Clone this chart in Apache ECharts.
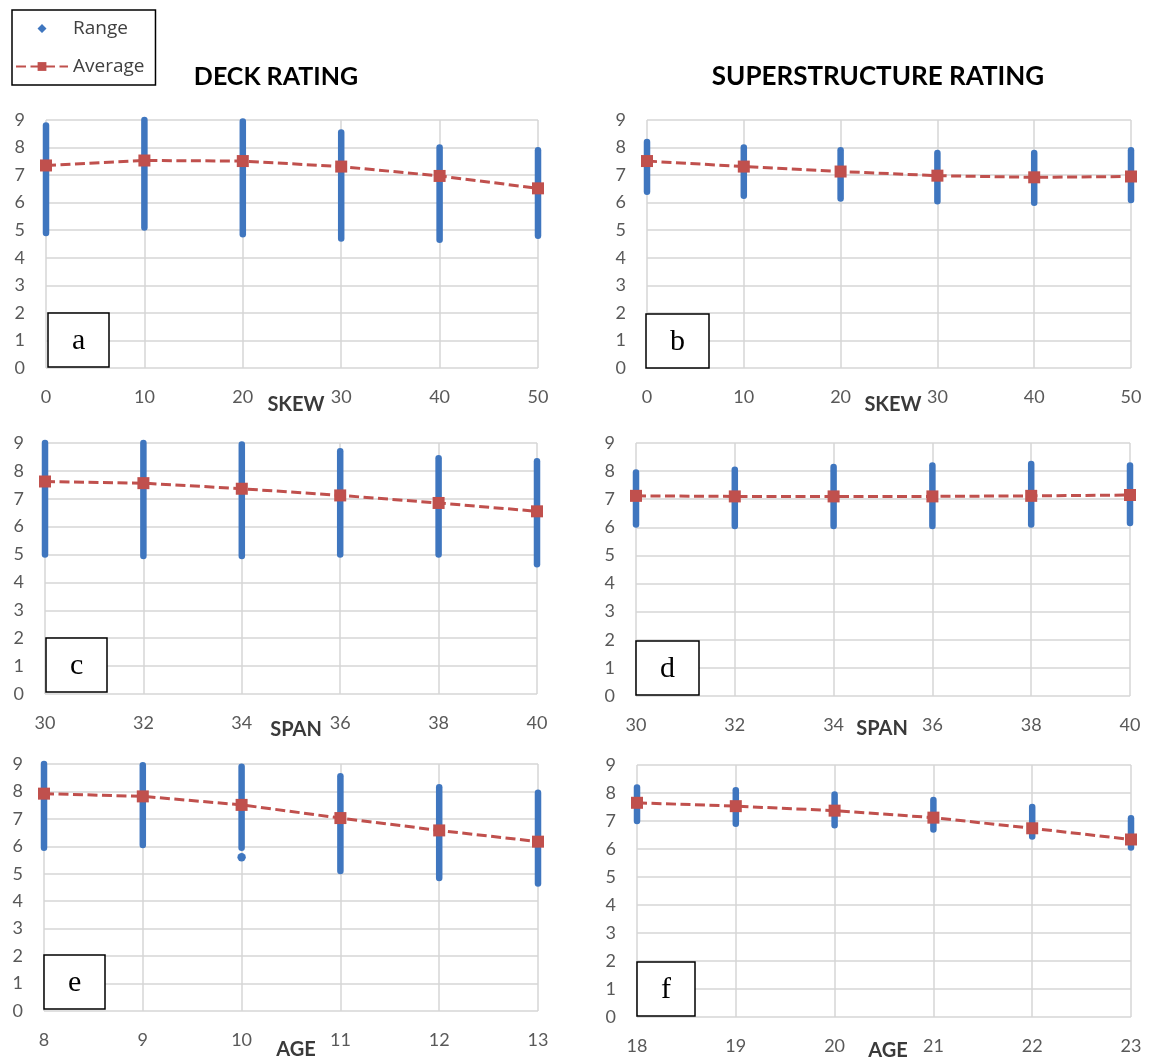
<!DOCTYPE html>
<html>
<head>
<meta charset="utf-8">
<script src="https://cdn.jsdelivr.net/npm/echarts@6/dist/echarts.min.js"></script>
<style>
  html, body { margin: 0; padding: 0; background: #fff; }
  #chart { width: 1151px; height: 1062px; }
</style>
</head>
<body>
<div id="chart"></div>
<script>
// ---- Data ----
const skewX = [0, 10, 20, 30, 40, 50];
const spanX = [30, 32, 34, 36, 38, 40];
const deckAgeX = [8, 9, 10, 11, 12, 13];
const superAgeX = [18, 19, 20, 21, 22, 23];

const deckSkewMin = [4.9, 5.1, 4.85, 4.7, 4.65, 4.8];
const deckSkewMax = [8.8, 9.0, 8.95, 8.55, 8.0, 7.9];
const deckSkewAvg = [7.35, 7.53, 7.51, 7.31, 6.97, 6.52];

const superSkewMin = [6.4, 6.25, 6.15, 6.05, 6.0, 6.1];
const superSkewMax = [8.2, 8.0, 7.9, 7.8, 7.8, 7.9];
const superSkewAvg = [7.51, 7.31, 7.13, 6.98, 6.92, 6.95];

const deckSpanMin = [5.0, 4.95, 4.95, 5.0, 5.0, 4.65];
const deckSpanMax = [9.0, 9.0, 8.95, 8.7, 8.45, 8.35];
const deckSpanAvg = [7.62, 7.56, 7.36, 7.12, 6.85, 6.55];

const superSpanMin = [6.1, 6.05, 6.05, 6.05, 6.1, 6.15];
const superSpanMax = [7.95, 8.05, 8.15, 8.2, 8.25, 8.2];
const superSpanAvg = [7.12, 7.1, 7.1, 7.1, 7.12, 7.15];

const deckAgeMin = [5.95, 6.05, 5.95, 5.1, 4.85, 4.65];
const deckAgeMax = [9.0, 8.95, 8.9, 8.55, 8.15, 7.95];
const deckAgeAvg = [7.92, 7.82, 7.51, 7.03, 6.58, 6.17];
const deckAgeOutlierX = [10];
const deckAgeOutlierY = [5.6];

const superAgeMin = [7.0, 6.9, 6.85, 6.7, 6.45, 6.05];
const superAgeMax = [8.2, 8.1, 7.95, 7.75, 7.5, 7.1];
const superAgeAvg = [7.65, 7.53, 7.37, 7.12, 6.74, 6.34];

const yTicks = [0, 1, 2, 3, 4, 5, 6, 7, 8, 9];

// ---- Styling ----
const BLUE = '#3F76BF';
const RED = '#C0504D';
const GRIDC = '#D6D6D6';
const LABELC = '#595959';
const FONT = 'Lato, "Open Sans", sans-serif';

const panels = [
  { key: 'a', x: skewX, min: deckSkewMin, max: deckSkewMax, avg: deckSkewAvg, name: 'SKEW',
    grid: { left: 46, top: 120, width: 492, height: 248 }, nameShift: 4, nameGap: 27,
    box: { left: 48, top: 313 } },
  { key: 'b', x: skewX, min: superSkewMin, max: superSkewMax, avg: superSkewAvg, name: 'SKEW',
    grid: { left: 647, top: 120, width: 484, height: 248 }, nameShift: 4, nameGap: 27,
    box: { left: 646, top: 314 } },
  { key: 'c', x: spanX, min: deckSpanMin, max: deckSpanMax, avg: deckSpanAvg, name: 'SPAN',
    grid: { left: 45, top: 443, width: 492, height: 251 }, nameShift: 5, nameGap: 26,
    box: { left: 46, top: 638 } },
  { key: 'd', x: spanX, min: superSpanMin, max: superSpanMax, avg: superSpanAvg, name: 'SPAN',
    grid: { left: 636, top: 443, width: 494, height: 253 }, nameShift: -1, nameGap: 23,
    box: { left: 636, top: 641 } },
  { key: 'e', x: deckAgeX, min: deckAgeMin, max: deckAgeMax, avg: deckAgeAvg, name: 'AGE',
    grid: { left: 44, top: 764, width: 494, height: 247 }, nameShift: 5, nameGap: 29,
    box: { left: 44, top: 955 }, outX: deckAgeOutlierX, outY: deckAgeOutlierY },
  { key: 'f', x: superAgeX, min: superAgeMin, max: superAgeMax, avg: superAgeAvg, name: 'AGE',
    grid: { left: 637, top: 765, width: 494, height: 252 }, nameShift: 4, nameGap: 24,
    box: { left: 637, top: 962 } }
];

function renderRange(params, api) {
  const x = api.value(0), lo = api.value(1), hi = api.value(2);
  const p1 = api.coord([x, lo]);
  const p2 = api.coord([x, hi]);
  if (lo === hi) {
    return { type: 'circle', shape: { cx: p1[0], cy: p1[1], r: 4.2 }, style: { fill: BLUE } };
  }
  return {
    type: 'line',
    shape: { x1: p1[0], y1: p1[1], x2: p2[0], y2: p2[1] },
    style: { stroke: BLUE, lineWidth: 6.5, lineCap: 'round' }
  };
}

const grids = [], xAxes = [], yAxes = [], series = [], titles = [];

panels.forEach((p, i) => {
  grids.push(Object.assign({ containLabel: false }, p.grid));
  const step = p.x[1] - p.x[0];
  const shift = p.nameShift;
  xAxes.push({
    type: 'value', gridIndex: i,
    min: p.x[0], max: p.x[p.x.length - 1], interval: step,
    name: p.name, nameLocation: 'middle', nameGap: p.nameGap, nameMoveOverlap: false,
    nameTextStyle: {
      fontFamily: FONT, fontWeight: 'bold', fontSize: 20, color: '#3a3a3a',
      padding: shift >= 0 ? [0, 0, 0, 2 * shift] : [0, -2 * shift, 0, 0]
    },
    axisLine: { show: false }, axisTick: { show: false },
    axisLabel: { color: LABELC, fontFamily: FONT, fontSize: 18, margin: 20 },
    splitLine: { show: true, lineStyle: { color: GRIDC, width: 1.5 } }
  });
  yAxes.push({
    type: 'value', gridIndex: i,
    min: yTicks[0], max: yTicks[yTicks.length - 1], interval: 1,
    axisLine: { show: false }, axisTick: { show: false },
    axisLabel: { color: LABELC, fontFamily: FONT, fontSize: 18, margin: 21 },
    splitLine: { show: true, lineStyle: { color: GRIDC, width: 1.5 } }
  });
  const rangeData = p.x.map((xv, k) => [xv, p.min[k], p.max[k]]);
  if (p.outX) p.outX.forEach((xv, k) => rangeData.push([xv, p.outY[k], p.outY[k]]));
  series.push({
    name: 'Range', type: 'custom', xAxisIndex: i, yAxisIndex: i,
    renderItem: renderRange, encode: { x: 0, y: [1, 2] },
    itemStyle: { color: BLUE }, data: rangeData, z: 2
  });
  series.push({
    name: 'Average', type: 'line', xAxisIndex: i, yAxisIndex: i,
    data: p.x.map((xv, k) => [xv, p.avg[k]]),
    symbol: 'rect', symbolSize: 12, showSymbol: true, clip: false,
    lineStyle: { color: RED, width: 3, type: [10, 4.5] },
    itemStyle: { color: RED },
    z: 3
  });
  titles.push({
    text: p.key, left: p.box.left, top: p.box.top,
    padding: [12, 24, 10, 24],
    borderColor: '#000', borderWidth: 1.5, backgroundColor: '#fff',
    textStyle: { fontFamily: '"Liberation Serif", "DejaVu Serif", serif', fontWeight: 'normal',
                 fontSize: 30, color: '#000', lineHeight: 32 }
  });
});

// small diamond centred inside a 52x11 icon box (invisible degenerate corners keep the box size)
const DIAMOND_ICON = 'path://M0,0L0.001,0L0,0.001Z M21.5,5.5L26,1L30.5,5.5L26,10Z M52,11L51.999,11L52,10.999Z';

const chart = echarts.init(document.getElementById('chart'), null, { renderer: 'canvas' });
chart.setOption({
  animation: false,
  backgroundColor: '#fff',
  title: titles,
  legend: {
    left: 12, top: 10, orient: 'vertical',
    padding: [9, 11, 9, 3], itemGap: 19, itemWidth: 52, itemHeight: 11,
    borderColor: '#000', borderWidth: 1.5,
    textStyle: { fontFamily: '"Open Sans", sans-serif', fontSize: 19, color: '#404040' },
    data: [
      { name: 'Range', icon: DIAMOND_ICON, itemStyle: { color: BLUE } },
      { name: 'Average' }
    ]
  },
  graphic: [
    { type: 'text', x: 276, y: 77,
      style: { text: 'DECK RATING', fontFamily: FONT, fontWeight: 'bold', fontSize: 25, fill: '#000',
               textAlign: 'center', textVerticalAlign: 'middle' } },
    { type: 'text', x: 878, y: 77,
      style: { text: 'SUPERSTRUCTURE RATING', fontFamily: FONT, fontWeight: 'bold', fontSize: 26, fill: '#000',
               textAlign: 'center', textVerticalAlign: 'middle' } }
  ],
  grid: grids,
  xAxis: xAxes,
  yAxis: yAxes,
  series: series
});
</script>
</body>
</html>
